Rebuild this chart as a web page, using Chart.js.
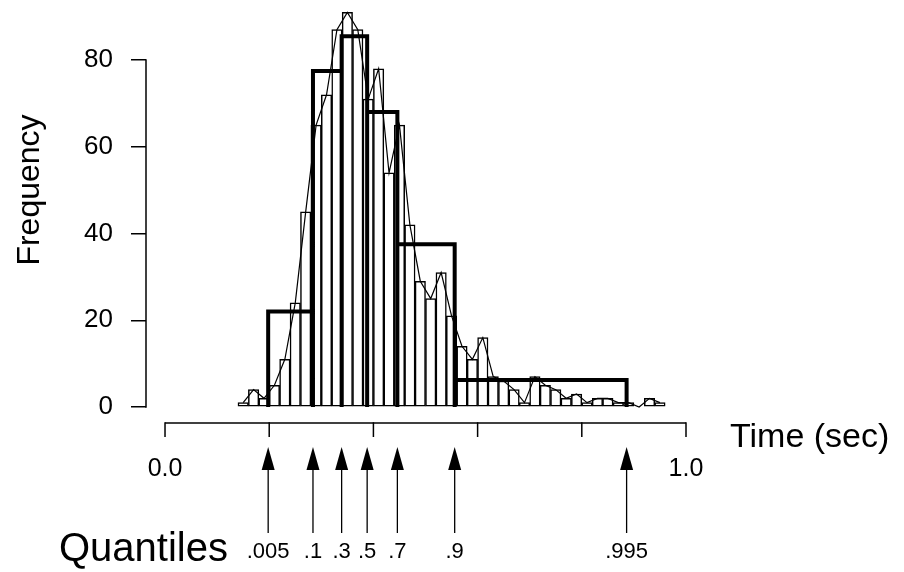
<!DOCTYPE html>
<html>
<head>
<meta charset="utf-8">
<script src="https://cdn.jsdelivr.net/npm/chart.js@4/dist/chart.umd.min.js"></script>
<style>
html,body{margin:0;padding:0;background:#fff;}
canvas{display:block;}
</style>
</head>
<body>
<canvas id="c" width="904" height="572"></canvas>
<script>
// ---- data ----
const binMids = [0.15,0.17,0.19,0.21,0.23,0.25,0.27,0.29,0.31,0.33,0.35,0.37,0.39,0.41,0.43,0.45,0.47,0.49,0.51,0.53,0.55,0.57,0.59,0.61,0.63,0.65,0.67,0.69,0.71,0.73,0.75,0.77,0.79,0.81,0.83,0.85,0.87,0.89,0.91,0.93,0.95];
const binCounts = [1,4,2,5,11,24,45,65,72,87,91,87,71,78,54,65,42,29,25,31,21,14,11,16,7,6,4,1,7,5,4,2,3,1,2,2,1,1,0,2,1];

const quantProbs = ['.005','.1','.3','.5','.7','.9','.995'];
const quantTimes = [0.198,0.284,0.339,0.388,0.446,0.556,0.886];
const quantHeights = [22,77.5,85.5,68,37.5,6.2];

const yTicks = [0,20,40,60,80];
const xTicks = [0.0,0.2,0.4,0.6,0.8,1.0];
const xTickLabels = ['0.0','','','','','1.0'];

const FONT = "'Liberation Sans', Arial, Helvetica, sans-serif";

// histogram points for the fine bars and the polygon
const finePoints = binMids.map((m,i)=>({x:m, y:binCounts[i]}));
// outline of the quantile histogram (rectangles)
const quantOutline = [];
for (let i=0;i<quantHeights.length;i++){
  quantOutline.push({x:quantTimes[i],y:0},{x:quantTimes[i],y:quantHeights[i]},
                    {x:quantTimes[i+1],y:quantHeights[i]},{x:quantTimes[i+1],y:0});
}

const deco = {
  id:'deco',
  afterDraw(chart){
    const {ctx, scales:{x,y}, chartArea} = chart;
    ctx.save();
    ctx.strokeStyle='#000'; ctx.fillStyle='#000';
    ctx.lineCap='butt';
    // y axis line (0..80)
    ctx.lineWidth=1.5;
    ctx.beginPath();
    ctx.moveTo(chartArea.left, y.getPixelForValue(yTicks[0])+0.75);
    ctx.lineTo(chartArea.left, y.getPixelForValue(yTicks[yTicks.length-1])-0.75);
    ctx.stroke();
    // separate time axis
    const axY = y.getPixelForValue(0)+16;
    ctx.beginPath();
    ctx.moveTo(x.getPixelForValue(xTicks[0]), axY);
    ctx.lineTo(x.getPixelForValue(xTicks[xTicks.length-1]), axY);
    ctx.stroke();
    xTicks.forEach(v=>{
      const px=x.getPixelForValue(v);
      ctx.beginPath(); ctx.moveTo(px,axY-0.75); ctx.lineTo(px,axY+14); ctx.stroke();
    });
    ctx.font='25px '+FONT;
    ctx.textAlign='center'; ctx.textBaseline='middle';
    xTicks.forEach((v,i)=>{
      if (xTickLabels[i]) ctx.fillText(xTickLabels[i], x.getPixelForValue(v), axY+46);
    });
    // quantile arrows
    const tipY = axY+24;
    quantTimes.forEach((v,i)=>{
      const px=x.getPixelForValue(v);
      ctx.beginPath();
      ctx.moveTo(px,tipY); ctx.lineTo(px-6.5,tipY+23); ctx.lineTo(px+6.5,tipY+23); ctx.closePath();
      ctx.fill();
      ctx.lineWidth=1.3;
      ctx.beginPath(); ctx.moveTo(px,tipY+20); ctx.lineTo(px,tipY+86); ctx.stroke();
      ctx.font='22px '+FONT;
      ctx.fillText(quantProbs[i], px, tipY+105);
    });
    // texts
    ctx.font='40px '+FONT;
    ctx.textAlign='left';
    ctx.fillText('Quantiles', 59, tipY+103);
    ctx.font='34px '+FONT;
    ctx.fillText('Time (sec)', 730, axY+15);
    ctx.save();
    ctx.translate(30,190);
    ctx.rotate(-Math.PI/2);
    ctx.textAlign='center';
    ctx.font='32px '+FONT;
    ctx.fillText('Frequency',0,0);
    ctx.restore();
    ctx.restore();
  }
};

new Chart(document.getElementById('c'), {
  type:'bar',
  data:{
    datasets:[
      {
        type:'line',
        label:'Quantile histogram',
        data:quantOutline,
        borderColor:'#000',
        borderWidth:4,
        pointRadius:0,
        tension:0,
        fill:false,
        borderJoinStyle:'miter',
        clip:false,
        order:1
      },
      {
        type:'line',
        label:'Frequency polygon',
        data:finePoints,
        borderColor:'#000',
        borderWidth:1.2,
        pointRadius:0,
        tension:0,
        fill:false,
        clip:false,
        order:2
      },
      {
        type:'bar',
        label:'Histogram',
        data:finePoints,
        backgroundColor:'#fff',
        borderColor:'#000',
        borderWidth:1.5,
        borderSkipped:false,
        barPercentage:1,
        categoryPercentage:1,
        grouped:false,
        clip:false,
        order:3
      }
    ]
  },
  options:{
    responsive:false,
    animation:false,
    devicePixelRatio:1,
    layout:{padding:{top:8,right:218,bottom:165,left:0}},
    plugins:{legend:{display:false},tooltip:{enabled:false}},
    scales:{
      x:{
        type:'linear',
        display:false,
        offset:false,
        min:-0.0365,
        max:1.0
      },
      y:{
        type:'linear',
        min:0,
        max:92,
        afterBuildTicks:ax=>{ax.ticks=yTicks.map(v=>({value:v}));},
        afterFit:ax=>{ax.width=146; ax.paddingTop=0; ax.paddingBottom=0;},
        border:{display:false},
        grid:{drawOnChartArea:false,drawTicks:true,tickLength:15,color:'#000',lineWidth:1.5},
        ticks:{color:'#000',font:{family:FONT,size:26},padding:18}
      }
    }
  },
  plugins:[deco]
});
</script>
</body>
</html>
